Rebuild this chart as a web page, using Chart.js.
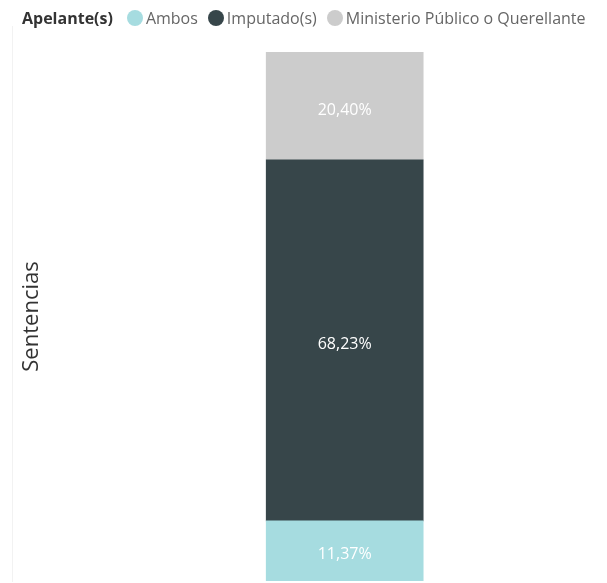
<!DOCTYPE html>
<html>
<head>
<meta charset="utf-8">
<script src="https://cdn.jsdelivr.net/npm/chart.js@4"></script>
<style>
    html, body { margin: 0; padding: 0; background: #fff; }
    #wrap { position: relative; width: 607px; height: 583px; font-family: "Open Sans", sans-serif; }
    #legend { position: absolute; left: 22px; top: 7px; display: flex; align-items: center; font-size: 16px; color: #666; white-space: nowrap; }
    #legend .title { font-weight: bold; color: #333; margin-right: 14px; }
    #legend .dot { display: inline-block; width: 16px; height: 16px; border-radius: 50%; margin-right: 3px; }
    #legend .item { display: flex; align-items: center; margin-right: 10px; }
    #edge { position: absolute; left: 12px; top: 26px; height: 556px; border-left: 1px solid #f2f2f2; }
    canvas { position: absolute; left: 0; top: 0; }
</style>
</head>
<body>
<div id="wrap">
    <div id="edge"></div>
    <canvas id="chart" width="607" height="583"></canvas>
    <div id="legend"></div>
</div>
<script>
    // Data
    const legendTitle = 'Apelante(s)';
    const categories = ['Sentencias'];
    const seriesNames = ['Ambos', 'Imputado(s)', 'Ministerio Público o Querellante'];
    const seriesValues = [[11.37], [68.23], [20.40]];
    const seriesColors = ['#a6dce0', '#37464a', '#cccccc'];

    // HTML legend with the inline title
    const legend = document.getElementById('legend');
    legend.innerHTML = '<span class="title">' + legendTitle + '</span>' +
        seriesNames.map((name, i) =>
            '<span class="item"><span class="dot" style="background:' + seriesColors[i] + '"></span>' + name + '</span>'
        ).join('');

    // Percent labels in the middle of each segment
    const segmentLabels = {
        id: 'segmentLabels',
        afterDatasetsDraw(chart) {
            const ctx = chart.ctx;
            ctx.save();
            ctx.font = '16px "Open Sans", sans-serif';
            ctx.fillStyle = '#ffffff';
            ctx.textAlign = 'center';
            ctx.textBaseline = 'middle';
            chart.data.datasets.forEach((ds, i) => {
                chart.getDatasetMeta(i).data.forEach((bar, j) => {
                    const text = ds.data[j].toFixed(2).replace('.', ',') + '%';
                    ctx.fillText(text, bar.x, (bar.y + bar.base) / 2 + 4);
                });
            });
            ctx.restore();
        }
    };

    new Chart(document.getElementById('chart'), {
        type: 'bar',
        data: {
            labels: categories,
            datasets: seriesNames.map((name, i) => ({
                label: name,
                data: seriesValues[i],
                backgroundColor: seriesColors[i],
                barThickness: 157
            }))
        },
        options: {
            responsive: false,
            animation: false,
            layout: { padding: { top: 52, bottom: 2, left: 16, right: 0 } },
            plugins: {
                legend: { display: false },
                tooltip: { enabled: false }
            },
            scales: {
                x: {
                    stacked: true,
                    display: false
                },
                y: {
                    stacked: true,
                    min: 0,
                    max: 100,
                    ticks: { display: false },
                    grid: { display: false, drawTicks: false },
                    border: { display: false },
                    title: {
                        display: true,
                        text: 'Sentencias',
                        color: '#333',
                        font: { family: '"Open Sans", sans-serif', size: 22 },
                        padding: { top: 3, bottom: 37 }
                    }
                }
            }
        },
        plugins: [segmentLabels]
    });
</script>
</body>
</html>
